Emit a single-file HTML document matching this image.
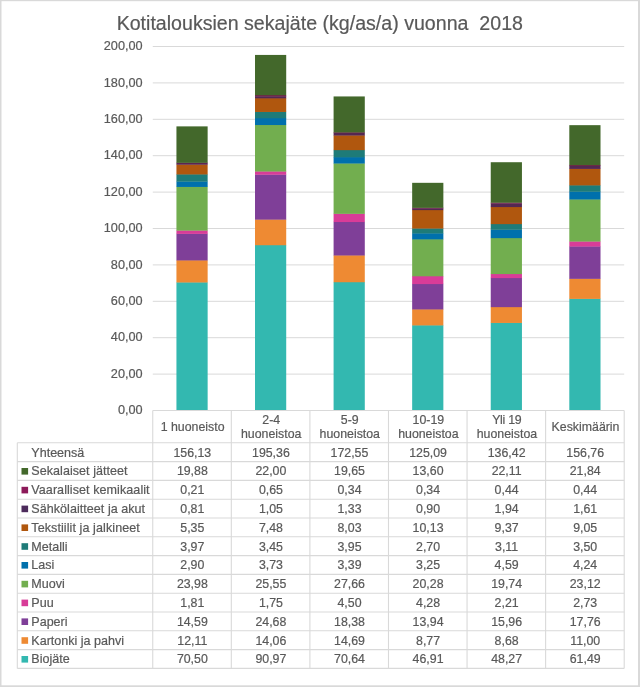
<!DOCTYPE html>
<html lang="fi"><head><meta charset="utf-8"><title>Kotitalouksien sekajäte</title>
<style>
html,body{margin:0;padding:0;background:#fff;}
body{width:640px;height:687px;overflow:hidden;}
svg{display:block;}
text{font-family:"Liberation Sans",Arial,sans-serif;fill:#595959;stroke:#595959;stroke-width:0.2px;}
.t{font-size:19.6px;}
.a{font-size:12.7px;}
.c{font-size:12.35px;}
.l{font-size:12.55px;}
</style></head><body>
<svg width="640" height="687" viewBox="0 0 640 687">
<rect x="0" y="0" width="640" height="687" fill="#d9d9d9"/>
<rect x="1.5" y="1.2" width="636.5" height="684.0999999999999" fill="#fff"/>
<text class="t" x="319.8" y="29.6" text-anchor="middle" style="white-space:pre">Kotitalouksien sekajäte (kg/as/a) vuonna  2018</text>
<text class="a" x="142.6" y="414.10" text-anchor="end">0,00</text>
<line x1="152.75" y1="374.10" x2="624.2" y2="374.10" stroke="#d9d9d9" stroke-width="1"/>
<text class="a" x="142.6" y="377.70" text-anchor="end">20,00</text>
<line x1="152.75" y1="337.70" x2="624.2" y2="337.70" stroke="#d9d9d9" stroke-width="1"/>
<text class="a" x="142.6" y="341.30" text-anchor="end">40,00</text>
<line x1="152.75" y1="301.30" x2="624.2" y2="301.30" stroke="#d9d9d9" stroke-width="1"/>
<text class="a" x="142.6" y="304.90" text-anchor="end">60,00</text>
<line x1="152.75" y1="264.90" x2="624.2" y2="264.90" stroke="#d9d9d9" stroke-width="1"/>
<text class="a" x="142.6" y="268.50" text-anchor="end">80,00</text>
<line x1="152.75" y1="228.50" x2="624.2" y2="228.50" stroke="#d9d9d9" stroke-width="1"/>
<text class="a" x="142.6" y="232.10" text-anchor="end">100,00</text>
<line x1="152.75" y1="192.10" x2="624.2" y2="192.10" stroke="#d9d9d9" stroke-width="1"/>
<text class="a" x="142.6" y="195.70" text-anchor="end">120,00</text>
<line x1="152.75" y1="155.70" x2="624.2" y2="155.70" stroke="#d9d9d9" stroke-width="1"/>
<text class="a" x="142.6" y="159.30" text-anchor="end">140,00</text>
<line x1="152.75" y1="119.30" x2="624.2" y2="119.30" stroke="#d9d9d9" stroke-width="1"/>
<text class="a" x="142.6" y="122.90" text-anchor="end">160,00</text>
<line x1="152.75" y1="82.90" x2="624.2" y2="82.90" stroke="#d9d9d9" stroke-width="1"/>
<text class="a" x="142.6" y="86.50" text-anchor="end">180,00</text>
<line x1="152.75" y1="46.50" x2="624.2" y2="46.50" stroke="#d9d9d9" stroke-width="1"/>
<text class="a" x="142.6" y="50.10" text-anchor="end">200,00</text>
<rect x="176.44" y="282.19" width="31.2" height="128.61" fill="#33b8b0"/>
<rect x="176.44" y="260.15" width="31.2" height="22.34" fill="#ee8a33"/>
<rect x="176.44" y="233.60" width="31.2" height="26.85" fill="#7f3f98"/>
<rect x="176.44" y="230.30" width="31.2" height="3.59" fill="#d83c98"/>
<rect x="176.44" y="186.66" width="31.2" height="43.94" fill="#72ae4f"/>
<rect x="176.44" y="181.38" width="31.2" height="5.58" fill="#0070ac"/>
<rect x="176.44" y="174.15" width="31.2" height="7.53" fill="#1e7b78"/>
<rect x="176.44" y="164.42" width="31.2" height="10.04" fill="#b0570e"/>
<rect x="176.44" y="162.94" width="31.2" height="1.77" fill="#542852"/>
<rect x="176.44" y="162.56" width="31.2" height="0.68" fill="#741d4c"/>
<rect x="176.44" y="126.38" width="31.2" height="36.48" fill="#43682b"/>
<rect x="255.01" y="244.93" width="31.2" height="165.87" fill="#33b8b0"/>
<rect x="255.01" y="219.35" width="31.2" height="25.89" fill="#ee8a33"/>
<rect x="255.01" y="174.43" width="31.2" height="45.22" fill="#7f3f98"/>
<rect x="255.01" y="171.24" width="31.2" height="3.48" fill="#d83c98"/>
<rect x="255.01" y="124.74" width="31.2" height="46.80" fill="#72ae4f"/>
<rect x="255.01" y="117.95" width="31.2" height="7.09" fill="#0070ac"/>
<rect x="255.01" y="111.67" width="31.2" height="6.58" fill="#1e7b78"/>
<rect x="255.01" y="98.06" width="31.2" height="13.91" fill="#b0570e"/>
<rect x="255.01" y="96.15" width="31.2" height="2.21" fill="#542852"/>
<rect x="255.01" y="94.97" width="31.2" height="1.48" fill="#741d4c"/>
<rect x="255.01" y="54.93" width="31.2" height="40.34" fill="#43682b"/>
<rect x="333.59" y="281.94" width="31.2" height="128.86" fill="#33b8b0"/>
<rect x="333.59" y="255.20" width="31.2" height="27.04" fill="#ee8a33"/>
<rect x="333.59" y="221.75" width="31.2" height="33.75" fill="#7f3f98"/>
<rect x="333.59" y="213.56" width="31.2" height="8.49" fill="#d83c98"/>
<rect x="333.59" y="163.22" width="31.2" height="50.64" fill="#72ae4f"/>
<rect x="333.59" y="157.05" width="31.2" height="6.47" fill="#0070ac"/>
<rect x="333.59" y="149.86" width="31.2" height="7.49" fill="#1e7b78"/>
<rect x="333.59" y="135.24" width="31.2" height="14.91" fill="#b0570e"/>
<rect x="333.59" y="132.82" width="31.2" height="2.72" fill="#542852"/>
<rect x="333.59" y="132.20" width="31.2" height="0.92" fill="#741d4c"/>
<rect x="333.59" y="96.44" width="31.2" height="36.06" fill="#43682b"/>
<rect x="412.16" y="325.12" width="31.2" height="85.68" fill="#33b8b0"/>
<rect x="412.16" y="309.16" width="31.2" height="16.26" fill="#ee8a33"/>
<rect x="412.16" y="283.79" width="31.2" height="25.67" fill="#7f3f98"/>
<rect x="412.16" y="276.00" width="31.2" height="8.09" fill="#d83c98"/>
<rect x="412.16" y="239.09" width="31.2" height="37.21" fill="#72ae4f"/>
<rect x="412.16" y="233.18" width="31.2" height="6.21" fill="#0070ac"/>
<rect x="412.16" y="228.26" width="31.2" height="5.21" fill="#1e7b78"/>
<rect x="412.16" y="209.83" width="31.2" height="18.74" fill="#b0570e"/>
<rect x="412.16" y="208.19" width="31.2" height="1.94" fill="#542852"/>
<rect x="412.16" y="207.57" width="31.2" height="0.92" fill="#741d4c"/>
<rect x="412.16" y="182.82" width="31.2" height="25.05" fill="#43682b"/>
<rect x="490.74" y="322.65" width="31.2" height="88.15" fill="#33b8b0"/>
<rect x="490.74" y="306.85" width="31.2" height="16.10" fill="#ee8a33"/>
<rect x="490.74" y="277.80" width="31.2" height="29.35" fill="#7f3f98"/>
<rect x="490.74" y="273.78" width="31.2" height="4.32" fill="#d83c98"/>
<rect x="490.74" y="237.85" width="31.2" height="36.23" fill="#72ae4f"/>
<rect x="490.74" y="229.50" width="31.2" height="8.65" fill="#0070ac"/>
<rect x="490.74" y="223.84" width="31.2" height="5.96" fill="#1e7b78"/>
<rect x="490.74" y="206.79" width="31.2" height="17.35" fill="#b0570e"/>
<rect x="490.74" y="203.26" width="31.2" height="3.83" fill="#542852"/>
<rect x="490.74" y="202.46" width="31.2" height="1.10" fill="#741d4c"/>
<rect x="490.74" y="162.22" width="31.2" height="40.54" fill="#43682b"/>
<rect x="569.31" y="298.59" width="31.2" height="112.21" fill="#33b8b0"/>
<rect x="569.31" y="278.57" width="31.2" height="20.32" fill="#ee8a33"/>
<rect x="569.31" y="246.24" width="31.2" height="32.62" fill="#7f3f98"/>
<rect x="569.31" y="241.28" width="31.2" height="5.27" fill="#d83c98"/>
<rect x="569.31" y="199.20" width="31.2" height="42.38" fill="#72ae4f"/>
<rect x="569.31" y="191.48" width="31.2" height="8.02" fill="#0070ac"/>
<rect x="569.31" y="185.11" width="31.2" height="6.67" fill="#1e7b78"/>
<rect x="569.31" y="168.64" width="31.2" height="16.77" fill="#b0570e"/>
<rect x="569.31" y="165.71" width="31.2" height="3.23" fill="#542852"/>
<rect x="569.31" y="164.91" width="31.2" height="1.10" fill="#741d4c"/>
<rect x="569.31" y="125.16" width="31.2" height="40.05" fill="#43682b"/>
<g stroke="#d9d9d9" stroke-width="1.1" fill="none">
<line x1="152.75" y1="410.5" x2="624.2" y2="410.5"/>
<line x1="17.3" y1="442.80" x2="624.2" y2="442.80"/>
<line x1="17.3" y1="461.60" x2="624.2" y2="461.60"/>
<line x1="17.3" y1="480.40" x2="624.2" y2="480.40"/>
<line x1="17.3" y1="499.20" x2="624.2" y2="499.20"/>
<line x1="17.3" y1="518.00" x2="624.2" y2="518.00"/>
<line x1="17.3" y1="536.80" x2="624.2" y2="536.80"/>
<line x1="17.3" y1="555.60" x2="624.2" y2="555.60"/>
<line x1="17.3" y1="574.40" x2="624.2" y2="574.40"/>
<line x1="17.3" y1="593.20" x2="624.2" y2="593.20"/>
<line x1="17.3" y1="612.00" x2="624.2" y2="612.00"/>
<line x1="17.3" y1="630.80" x2="624.2" y2="630.80"/>
<line x1="17.3" y1="649.60" x2="624.2" y2="649.60"/>
<line x1="17.3" y1="668.40" x2="624.2" y2="668.40"/>
<line x1="17.3" y1="442.8" x2="17.3" y2="668.4"/>
<line x1="152.75" y1="410.5" x2="152.75" y2="668.4"/>
<line x1="231.32" y1="410.5" x2="231.32" y2="668.4"/>
<line x1="309.90" y1="410.5" x2="309.90" y2="668.4"/>
<line x1="388.48" y1="410.5" x2="388.48" y2="668.4"/>
<line x1="467.05" y1="410.5" x2="467.05" y2="668.4"/>
<line x1="545.62" y1="410.5" x2="545.62" y2="668.4"/>
<line x1="624.20" y1="410.5" x2="624.20" y2="668.4"/>
</g>
<text class="c" x="192.64" y="431.2" text-anchor="middle">1 huoneisto</text>
<text class="c" x="271.21" y="424.0" text-anchor="middle">2-4</text>
<text class="c" x="271.21" y="437.8" text-anchor="middle">huoneistoa</text>
<text class="c" x="349.79" y="424.0" text-anchor="middle">5-9</text>
<text class="c" x="349.79" y="437.8" text-anchor="middle">huoneistoa</text>
<text class="c" x="428.36" y="424.0" text-anchor="middle">10-19</text>
<text class="c" x="428.36" y="437.8" text-anchor="middle">huoneistoa</text>
<text class="c" x="506.94" y="424.0" text-anchor="middle" textLength="29.6" lengthAdjust="spacing">Yli 19</text>
<text class="c" x="506.94" y="437.8" text-anchor="middle">huoneistoa</text>
<text class="c" x="585.51" y="431.2" text-anchor="middle">Keskimäärin</text>
<text class="l" x="31.3" y="456.50">Yhteensä</text>
<text class="c" x="192.34" y="456.50" text-anchor="middle">156,13</text>
<text class="c" x="270.91" y="456.50" text-anchor="middle">195,36</text>
<text class="c" x="349.49" y="456.50" text-anchor="middle">172,55</text>
<text class="c" x="428.06" y="456.50" text-anchor="middle">125,09</text>
<text class="c" x="506.64" y="456.50" text-anchor="middle">136,42</text>
<text class="c" x="585.21" y="456.50" text-anchor="middle">156,76</text>
<rect x="21.5" y="468.00" width="6.6" height="6.6" fill="#43682b"/>
<text class="l" x="31.3" y="475.30" textLength="96.3" lengthAdjust="spacing">Sekalaiset jätteet</text>
<text class="c" x="192.34" y="475.30" text-anchor="middle">19,88</text>
<text class="c" x="270.91" y="475.30" text-anchor="middle">22,00</text>
<text class="c" x="349.49" y="475.30" text-anchor="middle">19,65</text>
<text class="c" x="428.06" y="475.30" text-anchor="middle">13,60</text>
<text class="c" x="506.64" y="475.30" text-anchor="middle">22,11</text>
<text class="c" x="585.21" y="475.30" text-anchor="middle">21,84</text>
<rect x="21.5" y="486.80" width="6.6" height="6.6" fill="#8d1a5a"/>
<text class="l" x="31.3" y="494.10" textLength="118.3" lengthAdjust="spacing">Vaaralliset kemikaalit</text>
<text class="c" x="192.34" y="494.10" text-anchor="middle">0,21</text>
<text class="c" x="270.91" y="494.10" text-anchor="middle">0,65</text>
<text class="c" x="349.49" y="494.10" text-anchor="middle">0,34</text>
<text class="c" x="428.06" y="494.10" text-anchor="middle">0,34</text>
<text class="c" x="506.64" y="494.10" text-anchor="middle">0,44</text>
<text class="c" x="585.21" y="494.10" text-anchor="middle">0,44</text>
<rect x="21.5" y="505.60" width="6.6" height="6.6" fill="#4d2b5c"/>
<text class="l" x="31.3" y="512.90" textLength="113.8" lengthAdjust="spacing">Sähkölaitteet ja akut</text>
<text class="c" x="192.34" y="512.90" text-anchor="middle">0,81</text>
<text class="c" x="270.91" y="512.90" text-anchor="middle">1,05</text>
<text class="c" x="349.49" y="512.90" text-anchor="middle">1,33</text>
<text class="c" x="428.06" y="512.90" text-anchor="middle">0,90</text>
<text class="c" x="506.64" y="512.90" text-anchor="middle">1,94</text>
<text class="c" x="585.21" y="512.90" text-anchor="middle">1,61</text>
<rect x="21.5" y="524.40" width="6.6" height="6.6" fill="#b0570e"/>
<text class="l" x="31.3" y="531.70" textLength="108.5" lengthAdjust="spacing">Tekstiilit ja jalkineet</text>
<text class="c" x="192.34" y="531.70" text-anchor="middle">5,35</text>
<text class="c" x="270.91" y="531.70" text-anchor="middle">7,48</text>
<text class="c" x="349.49" y="531.70" text-anchor="middle">8,03</text>
<text class="c" x="428.06" y="531.70" text-anchor="middle">10,13</text>
<text class="c" x="506.64" y="531.70" text-anchor="middle">9,37</text>
<text class="c" x="585.21" y="531.70" text-anchor="middle">9,05</text>
<rect x="21.5" y="543.20" width="6.6" height="6.6" fill="#1e7b78"/>
<text class="l" x="31.3" y="550.50">Metalli</text>
<text class="c" x="192.34" y="550.50" text-anchor="middle">3,97</text>
<text class="c" x="270.91" y="550.50" text-anchor="middle">3,45</text>
<text class="c" x="349.49" y="550.50" text-anchor="middle">3,95</text>
<text class="c" x="428.06" y="550.50" text-anchor="middle">2,70</text>
<text class="c" x="506.64" y="550.50" text-anchor="middle">3,11</text>
<text class="c" x="585.21" y="550.50" text-anchor="middle">3,50</text>
<rect x="21.5" y="562.00" width="6.6" height="6.6" fill="#0070ac"/>
<text class="l" x="31.3" y="569.30">Lasi</text>
<text class="c" x="192.34" y="569.30" text-anchor="middle">2,90</text>
<text class="c" x="270.91" y="569.30" text-anchor="middle">3,73</text>
<text class="c" x="349.49" y="569.30" text-anchor="middle">3,39</text>
<text class="c" x="428.06" y="569.30" text-anchor="middle">3,25</text>
<text class="c" x="506.64" y="569.30" text-anchor="middle">4,59</text>
<text class="c" x="585.21" y="569.30" text-anchor="middle">4,24</text>
<rect x="21.5" y="580.80" width="6.6" height="6.6" fill="#72ae4f"/>
<text class="l" x="31.3" y="588.10">Muovi</text>
<text class="c" x="192.34" y="588.10" text-anchor="middle">23,98</text>
<text class="c" x="270.91" y="588.10" text-anchor="middle">25,55</text>
<text class="c" x="349.49" y="588.10" text-anchor="middle">27,66</text>
<text class="c" x="428.06" y="588.10" text-anchor="middle">20,28</text>
<text class="c" x="506.64" y="588.10" text-anchor="middle">19,74</text>
<text class="c" x="585.21" y="588.10" text-anchor="middle">23,12</text>
<rect x="21.5" y="599.60" width="6.6" height="6.6" fill="#d83c98"/>
<text class="l" x="31.3" y="606.90">Puu</text>
<text class="c" x="192.34" y="606.90" text-anchor="middle">1,81</text>
<text class="c" x="270.91" y="606.90" text-anchor="middle">1,75</text>
<text class="c" x="349.49" y="606.90" text-anchor="middle">4,50</text>
<text class="c" x="428.06" y="606.90" text-anchor="middle">4,28</text>
<text class="c" x="506.64" y="606.90" text-anchor="middle">2,21</text>
<text class="c" x="585.21" y="606.90" text-anchor="middle">2,73</text>
<rect x="21.5" y="618.40" width="6.6" height="6.6" fill="#7f3f98"/>
<text class="l" x="31.3" y="625.70">Paperi</text>
<text class="c" x="192.34" y="625.70" text-anchor="middle">14,59</text>
<text class="c" x="270.91" y="625.70" text-anchor="middle">24,68</text>
<text class="c" x="349.49" y="625.70" text-anchor="middle">18,38</text>
<text class="c" x="428.06" y="625.70" text-anchor="middle">13,94</text>
<text class="c" x="506.64" y="625.70" text-anchor="middle">15,96</text>
<text class="c" x="585.21" y="625.70" text-anchor="middle">17,76</text>
<rect x="21.5" y="637.20" width="6.6" height="6.6" fill="#ee8a33"/>
<text class="l" x="31.3" y="644.50">Kartonki ja pahvi</text>
<text class="c" x="192.34" y="644.50" text-anchor="middle">12,11</text>
<text class="c" x="270.91" y="644.50" text-anchor="middle">14,06</text>
<text class="c" x="349.49" y="644.50" text-anchor="middle">14,69</text>
<text class="c" x="428.06" y="644.50" text-anchor="middle">8,77</text>
<text class="c" x="506.64" y="644.50" text-anchor="middle">8,68</text>
<text class="c" x="585.21" y="644.50" text-anchor="middle">11,00</text>
<rect x="21.5" y="656.00" width="6.6" height="6.6" fill="#33b8b0"/>
<text class="l" x="31.3" y="663.30">Biojäte</text>
<text class="c" x="192.34" y="663.30" text-anchor="middle">70,50</text>
<text class="c" x="270.91" y="663.30" text-anchor="middle">90,97</text>
<text class="c" x="349.49" y="663.30" text-anchor="middle">70,64</text>
<text class="c" x="428.06" y="663.30" text-anchor="middle">46,91</text>
<text class="c" x="506.64" y="663.30" text-anchor="middle">48,27</text>
<text class="c" x="585.21" y="663.30" text-anchor="middle">61,49</text>
</svg></body></html>
